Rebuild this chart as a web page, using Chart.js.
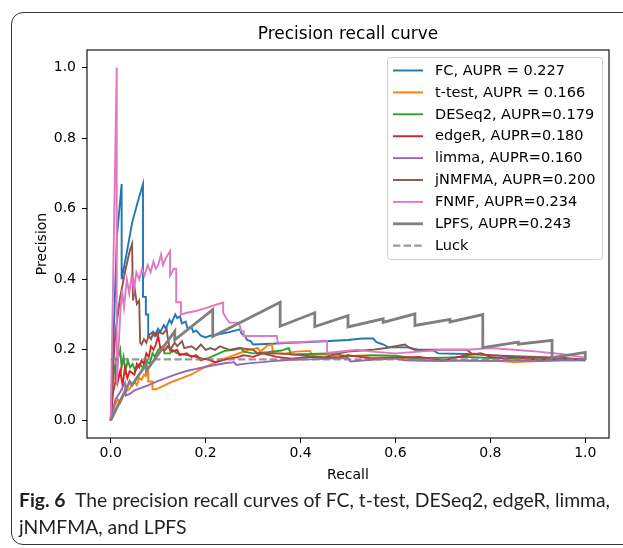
<!DOCTYPE html>
<html><head><meta charset="utf-8">
<script src="https://cdn.jsdelivr.net/npm/chart.js@4"></script>
<style>
html,body{margin:0;padding:0;background:#fff;width:623px;height:548px;overflow:hidden;}
#frame{position:absolute;left:11px;top:12px;width:700px;height:533px;border:1.5px solid #333;border-radius:12px;box-sizing:border-box;}
#wrap{position:absolute;left:0;top:0;width:623px;height:548px;}
#cap{position:absolute;left:19px;top:486px;font-family:Lato,"Open Sans",sans-serif;font-size:17px;line-height:27px;color:#231f20;white-space:nowrap;}
#cap b{font-weight:bold;margin-right:5px;}
</style></head>
<body>
<div id="frame"></div>
<div id="wrap"><canvas id="c" width="623" height="548"></canvas></div>
<div id="cap"><div id="l1"><b>Fig. 6</b> The precision recall curves of FC, t-test, DESeq2, edgeR, limma,</div><div id="l2">jNMFMA, and LPFS</div></div>
<script>
// ---- data (recall, precision) ----
const FC = [[0,0],[0.013,0.52],[0.023,0.67],[0.023,0.40],[0.033,0.47],[0.045,0.56],[0.057,0.62],[0.068,0.67],[0.068,0.35],[0.074,0.35],[0.074,0.30],[0.079,0.30],[0.079,0.24],[0.088,0.25],[0.092,0.24],[0.1,0.26],[0.104,0.25],[0.112,0.27],[0.116,0.26],[0.124,0.285],[0.128,0.275],[0.136,0.30],[0.14,0.29],[0.146,0.295],[0.15,0.275],[0.158,0.28],[0.162,0.26],[0.17,0.265],[0.174,0.25],[0.18,0.255],[0.19,0.24],[0.2,0.235],[0.21,0.24],[0.23,0.245],[0.25,0.25],[0.272,0.258],[0.276,0.245],[0.283,0.24],[0.287,0.228],[0.295,0.225],[0.3,0.215],[0.34,0.217],[0.38,0.22],[0.42,0.222],[0.46,0.225],[0.5,0.228],[0.53,0.232],[0.553,0.232],[0.56,0.222],[0.575,0.215],[0.585,0.207],[0.63,0.207],[0.64,0.2],[0.68,0.198],[0.69,0.19],[0.75,0.188],[0.8,0.185],[0.85,0.18],[0.9,0.178],[0.95,0.175],[1.0,0.172]];
const TTEST = [[0,0],[0.008,0.04],[0.015,0.06],[0.02,0.05],[0.03,0.08],[0.04,0.09],[0.05,0.11],[0.055,0.10],[0.06,0.12],[0.065,0.115],[0.07,0.13],[0.074,0.125],[0.079,0.14],[0.079,0.11],[0.088,0.11],[0.088,0.088],[0.095,0.088],[0.11,0.097],[0.13,0.11],[0.15,0.12],[0.17,0.13],[0.19,0.145],[0.21,0.158],[0.23,0.17],[0.25,0.18],[0.27,0.19],[0.29,0.2],[0.31,0.205],[0.315,0.195],[0.32,0.2],[0.33,0.212],[0.34,0.215],[0.342,0.19],[0.37,0.19],[0.39,0.195],[0.42,0.197],[0.425,0.185],[0.45,0.187],[0.48,0.18],[0.52,0.183],[0.55,0.178],[0.6,0.18],[0.63,0.172],[0.68,0.175],[0.72,0.17],[0.76,0.168],[0.8,0.17],[0.85,0.165],[0.9,0.168],[0.95,0.17],[1.0,0.17]];
const DESEQ2 = [[0,0],[0.004,0.10],[0.008,0.15],[0.012,0.13],[0.016,0.18],[0.02,0.2],[0.023,0.15],[0.027,0.18],[0.031,0.14],[0.036,0.17],[0.041,0.15],[0.046,0.16],[0.052,0.14],[0.06,0.16],[0.068,0.15],[0.075,0.17],[0.082,0.16],[0.088,0.19],[0.093,0.18],[0.1,0.2],[0.11,0.21],[0.113,0.19],[0.125,0.19],[0.13,0.2],[0.14,0.19],[0.16,0.185],[0.18,0.18],[0.2,0.173],[0.22,0.185],[0.24,0.197],[0.26,0.2],[0.275,0.205],[0.28,0.195],[0.3,0.19],[0.33,0.193],[0.36,0.198],[0.375,0.205],[0.38,0.187],[0.42,0.188],[0.46,0.19],[0.5,0.182],[0.55,0.185],[0.6,0.183],[0.64,0.176],[0.7,0.178],[0.75,0.18],[0.8,0.177],[0.85,0.175],[0.9,0.176],[0.95,0.173],[1.0,0.172]];
const EDGER = [[0,0],[0.005,0.08],[0.01,0.11],[0.012,0.18],[0.015,0.11],[0.02,0.14],[0.025,0.10],[0.03,0.15],[0.035,0.12],[0.04,0.14],[0.05,0.13],[0.055,0.16],[0.06,0.15],[0.065,0.17],[0.07,0.16],[0.075,0.19],[0.08,0.18],[0.085,0.21],[0.09,0.20],[0.095,0.215],[0.1,0.24],[0.105,0.20],[0.115,0.20],[0.12,0.21],[0.13,0.195],[0.14,0.20],[0.145,0.185],[0.16,0.19],[0.17,0.18],[0.18,0.185],[0.19,0.17],[0.2,0.175],[0.22,0.165],[0.25,0.175],[0.27,0.18],[0.28,0.185],[0.3,0.18],[0.32,0.19],[0.35,0.18],[0.38,0.175],[0.42,0.18],[0.48,0.178],[0.5,0.185],[0.55,0.175],[0.6,0.178],[0.65,0.18],[0.7,0.17],[0.75,0.185],[0.78,0.19],[0.8,0.18],[0.83,0.175],[0.85,0.18],[0.9,0.172],[0.95,0.175],[1.0,0.17]];
const LIMMA = [[0,0],[0.01,0.06],[0.02,0.08],[0.025,0.095],[0.03,0.107],[0.032,0.07],[0.04,0.075],[0.05,0.085],[0.06,0.09],[0.08,0.10],[0.1,0.112],[0.12,0.122],[0.14,0.132],[0.16,0.14],[0.18,0.146],[0.2,0.152],[0.22,0.157],[0.24,0.162],[0.26,0.165],[0.265,0.157],[0.28,0.16],[0.3,0.163],[0.32,0.165],[0.34,0.168],[0.38,0.172],[0.42,0.173],[0.46,0.175],[0.5,0.177],[0.505,0.167],[0.55,0.172],[0.6,0.175],[0.62,0.17],[0.66,0.169],[0.7,0.168],[0.75,0.17],[0.8,0.168],[0.85,0.17],[0.9,0.168],[0.95,0.17],[1.0,0.17]];
const JNMFMA = [[0,0],[0.005,0.15],[0.01,0.25],[0.015,0.30],[0.02,0.35],[0.03,0.42],[0.04,0.48],[0.045,0.50],[0.047,0.34],[0.05,0.38],[0.055,0.33],[0.06,0.34],[0.062,0.22],[0.065,0.215],[0.07,0.23],[0.075,0.22],[0.08,0.24],[0.085,0.23],[0.09,0.25],[0.095,0.24],[0.1,0.25],[0.11,0.245],[0.118,0.258],[0.12,0.235],[0.125,0.2],[0.135,0.22],[0.14,0.21],[0.15,0.225],[0.155,0.205],[0.17,0.21],[0.18,0.2],[0.19,0.215],[0.2,0.2],[0.21,0.205],[0.22,0.2],[0.23,0.21],[0.25,0.2],[0.27,0.205],[0.3,0.2],[0.31,0.19],[0.35,0.19],[0.4,0.185],[0.45,0.178],[0.48,0.19],[0.5,0.195],[0.55,0.2],[0.58,0.205],[0.6,0.21],[0.62,0.215],[0.63,0.205],[0.65,0.2],[0.7,0.2],[0.75,0.2],[0.76,0.19],[0.8,0.185],[0.85,0.182],[0.9,0.18],[0.95,0.178],[1.0,0.172]];
const FNMF = [[0,0],[0.0127,1.0],[0.0127,0.10],[0.02,0.30],[0.024,0.37],[0.028,0.32],[0.034,0.40],[0.039,0.36],[0.044,0.41],[0.049,0.37],[0.054,0.42],[0.06,0.40],[0.066,0.43],[0.071,0.41],[0.078,0.44],[0.084,0.42],[0.09,0.45],[0.095,0.43],[0.1,0.44],[0.106,0.47],[0.11,0.44],[0.116,0.46],[0.125,0.48],[0.125,0.41],[0.133,0.43],[0.138,0.43],[0.138,0.335],[0.148,0.335],[0.148,0.30],[0.16,0.305],[0.18,0.31],[0.2,0.318],[0.22,0.327],[0.237,0.334],[0.237,0.305],[0.243,0.29],[0.25,0.277],[0.27,0.277],[0.275,0.253],[0.28,0.253],[0.28,0.239],[0.35,0.239],[0.352,0.22],[0.4,0.222],[0.456,0.226],[0.456,0.191],[0.49,0.196],[0.52,0.2],[0.55,0.195],[0.6,0.19],[0.65,0.195],[0.7,0.2],[0.75,0.2],[0.8,0.205],[0.85,0.2],[0.9,0.195],[0.95,0.188],[1.0,0.178]];
const LPFS = [[0,0],[0.04,0.11],[0.045,0.10],[0.075,0.16],[0.075,0.14],[0.135,0.253],[0.135,0.228],[0.215,0.314],[0.215,0.238],[0.357,0.335],[0.357,0.267],[0.43,0.305],[0.43,0.266],[0.5,0.297],[0.5,0.265],[0.574,0.288],[0.574,0.278],[0.641,0.302],[0.641,0.269],[0.715,0.286],[0.715,0.279],[0.784,0.300],[0.784,0.206],[0.859,0.222],[0.859,0.216],[0.93,0.227],[0.93,0.178],[1.0,0.193],[1.0,0.172]];
const LUCK = [[0,0.173],[1,0.173]];

const seriesLabels = ['FC, AUPR = 0.227','t-test, AUPR = 0.166','DESeq2, AUPR=0.179','edgeR, AUPR=0.180','limma, AUPR=0.160','jNMFMA, AUPR=0.200','FNMF, AUPR=0.234','LPFS, AUPR=0.243','Luck'];
const seriesData = [FC, TTEST, DESEQ2, EDGER, LIMMA, JNMFMA, FNMF, LPFS, LUCK];
const xTicks = [0, 0.2, 0.4, 0.6, 0.8, 1.0];
const yTicks = [0, 0.2, 0.4, 0.6, 0.8, 1.0];
const chartTitle = 'Precision recall curve';

const colors = ['#1f77b4','#ff7f0e','#2ca02c','#d62728','#9467bd','#8c564b','#e377c2','#7f7f7f','rgba(128,128,128,0.8)'];
const widths = [1.9,1.9,1.9,1.9,1.9,1.9,1.9,2.8,2.2];
const dashes = [[],[],[],[],[],[],[],[],[7.4,3.2]];

// fit caption width by font size
(function(){
  const cap = document.getElementById('cap'), l1 = document.getElementById('l1');
  const w = l1.getBoundingClientRect().width;
  const fs = 17 * 592 / w;
  cap.style.fontSize = fs + 'px';
})();

const FONT = 'DejaVu Sans';
const n = seriesData.length;
const datasets = seriesData.map((arr, i) => ({
  label: seriesLabels[i],
  data: arr.map(([x, y]) => ({x, y})),
  borderColor: colors[i],
  backgroundColor: colors[i],
  borderWidth: widths[i],
  borderDash: dashes[i],
  pointRadius: 0,
  tension: 0,
  fill: false,
  order: n - i
}));

const boxPlugin = {
  id: 'box',
  afterDatasetsDraw(chart) {
    const {ctx, chartArea: a} = chart;
    ctx.save();
    ctx.strokeStyle = '#000';
    ctx.lineWidth = 1.1;
    ctx.strokeRect(a.left, a.top, a.right - a.left, a.bottom - a.top);
    // title centred over the axes
    ctx.fillStyle = '#000';
    ctx.font = '17px "' + FONT + '"';
    ctx.textAlign = 'center';
    ctx.textBaseline = 'middle';
    ctx.fillText(chartTitle, (a.left + a.right) / 2, a.top - 15);
    ctx.restore();
  }
};

const legendPlugin = {
  id: 'mplLegend',
  afterDraw(chart) {
    const {ctx, chartArea: a} = chart;
    const w = 215, h = 202;
    const x0 = a.right - 7 - w, y0 = a.top + 7;
    ctx.save();
    ctx.beginPath();
    ctx.roundRect(x0 + 0.5, y0 + 0.5, w, h, 3);
    ctx.fillStyle = 'rgba(255,255,255,0.8)';
    ctx.fill();
    ctx.strokeStyle = '#d0d0d0';
    ctx.lineWidth = 1;
    ctx.stroke();
    ctx.font = '14.5px "' + FONT + '"';
    ctx.textBaseline = 'middle';
    ctx.textAlign = 'left';
    chart.data.datasets.forEach((ds, i) => {
      const y = y0 + 13.5 + i * 21.9;
      ctx.beginPath();
      ctx.setLineDash(ds.borderDash || []);
      ctx.strokeStyle = ds.borderColor;
      ctx.lineWidth = ds.borderWidth;
      ctx.moveTo(x0 + 6, y);
      ctx.lineTo(x0 + 36, y);
      ctx.stroke();
      ctx.setLineDash([]);
      ctx.fillStyle = '#000';
      ctx.fillText(ds.label, x0 + 48, y + 0.5);
    });
    ctx.restore();
  }
};

new Chart(document.getElementById('c'), {
  type: 'line',
  data: { datasets },
  plugins: [boxPlugin, legendPlugin],
  options: {
    responsive: false,
    animation: false,
    devicePixelRatio: 1,
    layout: { padding: { left: 0, right: 14, top: 50, bottom: 60 } },
    plugins: {
      legend: { display: false },
      tooltip: { enabled: false },
      title: { display: false }
    },
    scales: {
      x: {
        type: 'linear',
        min: -0.05, max: 1.05,
        afterFit(s) { s.height = 50; },
        afterBuildTicks(s) { s.ticks = xTicks.map(v => ({value: v})); },
        border: { display: false },
        grid: { drawOnChartArea: false, drawTicks: true, tickLength: 5, color: '#000', lineWidth: 1 },
        ticks: { color: '#000', padding: 1.6, font: { family: FONT, size: 14 }, maxRotation: 0, autoSkip: false,
                 callback: v => Number(v).toFixed(1) },
        title: { display: true, text: 'Recall', color: '#000', font: { family: FONT, size: 14 }, padding: { top: 0, bottom: 4.1 } }
      },
      y: {
        type: 'linear',
        min: -0.05, max: 1.05,
        afterFit(s) { s.width = 87; },
        afterBuildTicks(s) { s.ticks = yTicks.map(v => ({value: v})); },
        border: { display: false },
        grid: { drawOnChartArea: false, drawTicks: true, tickLength: 5, color: '#000', lineWidth: 1 },
        ticks: { color: '#000', padding: 6, font: { family: FONT, size: 14 }, autoSkip: false,
                 callback: v => Number(v).toFixed(1) },
        title: { display: true, text: 'Precision', color: '#000', font: { family: FONT, size: 14 }, padding: { top: 33.6, bottom: 0 } }
      }
    }
  }
});
</script>
</body></html>
